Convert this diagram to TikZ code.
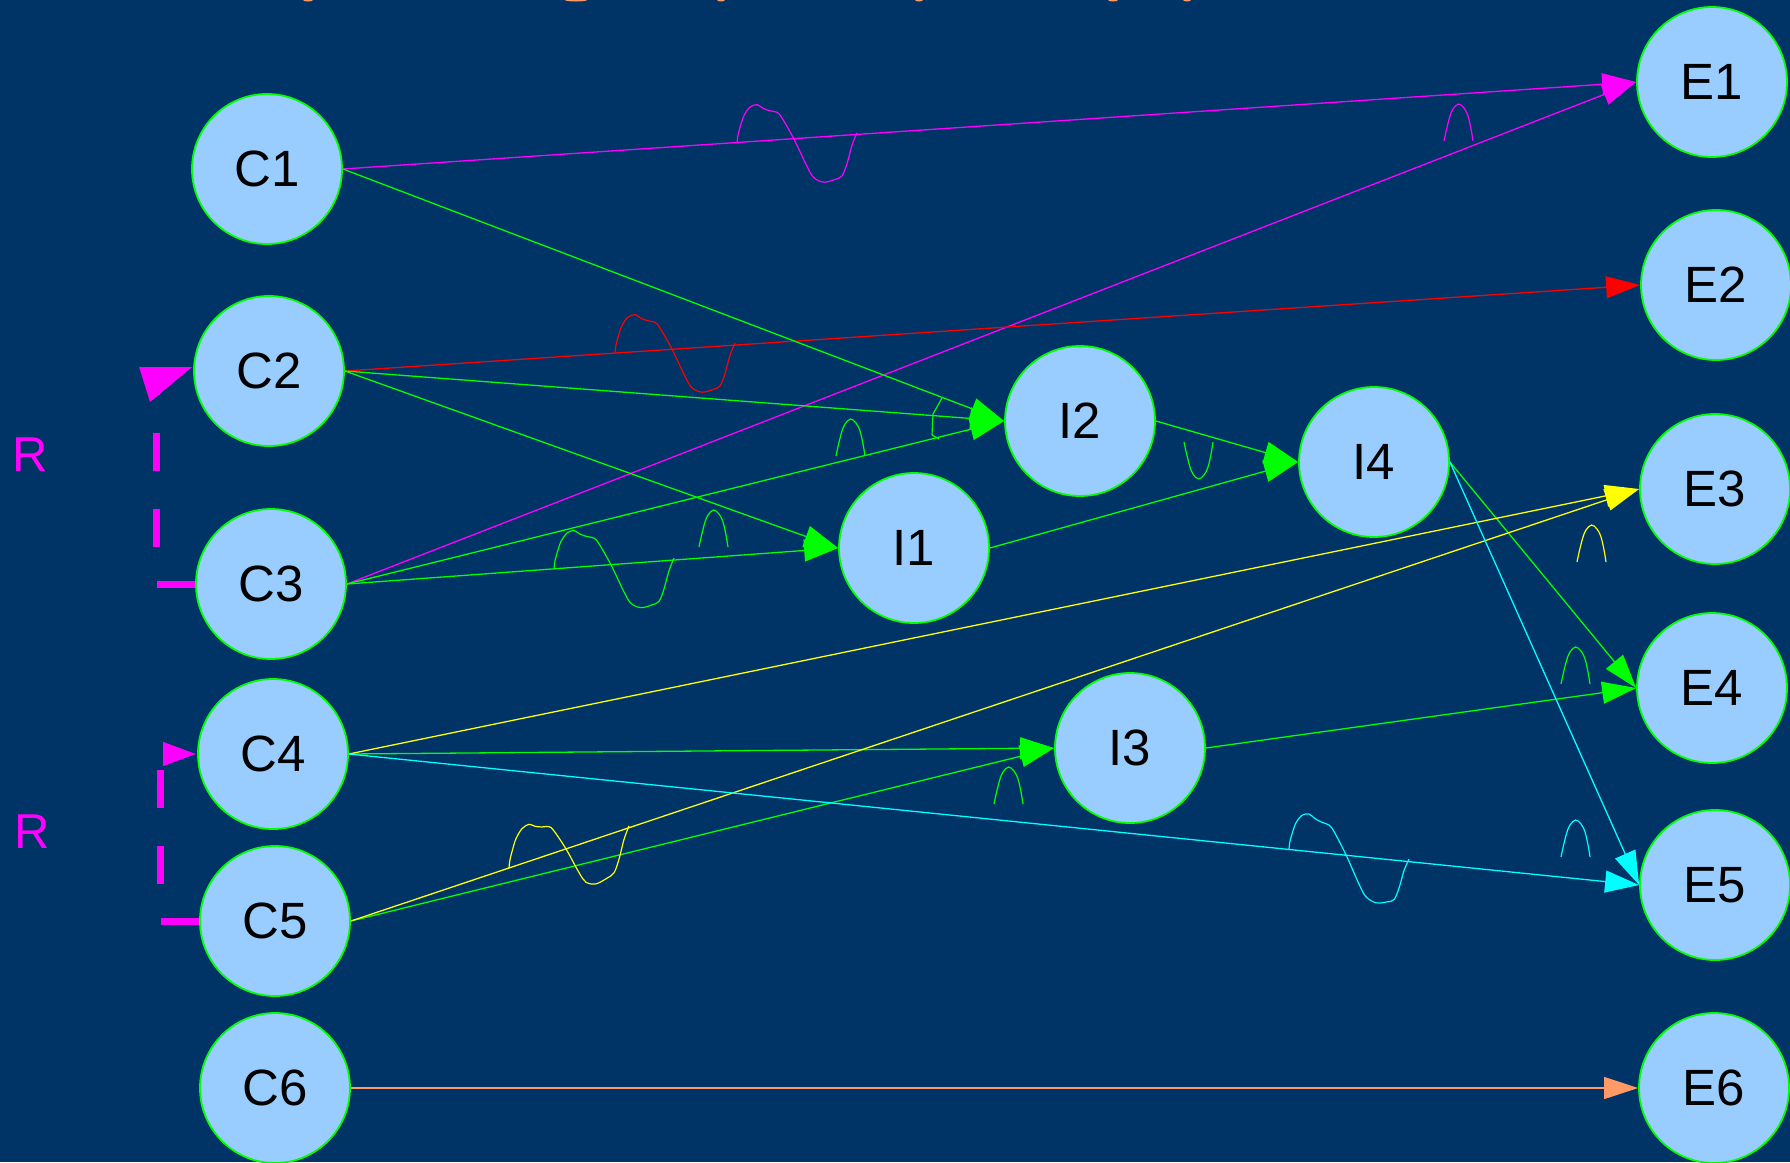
\documentclass[tikz,border=0pt]{standalone}
\usepackage{fontspec}
\setmainfont{Liberation Sans}
\usetikzlibrary{arrows.meta}

\definecolor{navy}{HTML}{003366}
\definecolor{ballfill}{HTML}{99CCFF}
\definecolor{salmon}{HTML}{FF9966}
\definecolor{fuchsia}{HTML}{FF00FF}
\definecolor{aqua}{HTML}{00FFFF}
\definecolor{lemon}{HTML}{FFFF00}
\definecolor{lime}{HTML}{00FF00}
\definecolor{scarlet}{HTML}{FF0000}

% one period of the wiggle and the small hump put on some of the links
\tikzset{
  wave/.pic={\draw[line width=1.2pt] plot[smooth,tension=0.55] coordinates {(0,0) (1,-8) (3.5,-17) (7,-27) (13,-35) (20,-37) (26,-33) (33,-30) (40,-28) (45,-22) (57,0) (70,28) (77,40) (87,45) (98,43) (105,40) (110,28) (115,10) (120,-2)};},
  bump/.pic={\draw[line width=1.2pt] plot[smooth,tension=0.6] coordinates {(0,0) (2.3,-10.7) (5.7,-24) (9,-32) (14.5,-37) (20,-33) (24,-25) (27,-12) (29,0)};}
}

\begin{document}
\begin{tikzpicture}[x=1pt,y=-1pt,
    ball/.style={circle,minimum size=150pt,inner sep=0pt,fill=ballfill,draw=lime,line width=1.8pt,font=\fontsize{51}{51}\selectfont},
    link/.style={line width=1.3pt,-{Triangle[length=34pt,width=22pt]}},
    rlink/.style={fuchsia,line width=7pt,dash pattern=on 38pt off 38pt}]

    \fill[navy] (0,0) rectangle (1790,1162);
    \useasboundingbox (0,0) rectangle (1790,1162);

    % bits of the heading cut off at the top
    \foreach \x/\w in {308/5, 576/11, 721/4, 919/4, 1113/5, 1187/4}
        \fill[salmon] (\x,0) ellipse [x radius=\w, y radius=1.5];

    % causes
    \node[ball] (C1) at (267,169) {C1};
    \node[ball] (C2) at (269,371) {C2};
    \node[ball] (C3) at (271,584) {C3};
    \node[ball] (C4) at (273,754) {C4};
    \node[ball] (C5) at (275,921) {C5};
    \node[ball] (C6) at (275,1088) {C6};

    % intermediate
    \node[ball] (I1) at (914,548) {I1};
    \node[ball] (I2) at (1080,421) {I2};
    \node[ball] (I3) at (1130,748) {I3};
    \node[ball] (I4) at (1374,462) {I4};

    % effects
    \node[ball] (E1) at (1712,82) {E1};
    \node[ball] (E2) at (1716,285) {E2};
    \node[ball] (E3) at (1715,489) {E3};
    \node[ball] (E4) at (1712,688) {E4};
    \node[ball] (E5) at (1715,885) {E5};
    \node[ball] (E6) at (1714,1088) {E6};

    \node[text=fuchsia,font=\fontsize{49}{49}\selectfont] (R1) at (30,455) {R};
    \node[text=fuchsia,font=\fontsize{49}{49}\selectfont] (R2) at (32,832) {R};

    \draw[link,fuchsia] (C1.east) -- (E1.west);
    \draw[link,fuchsia] (C3.east) -- (E1.west);
    \draw[link,scarlet] (C2.east) -- (E2.west);
    \draw[link,lime] (C1.east) -- (I2.west);
    \draw[link,lime] (C2.east) -- (I2.west);
    \draw[link,lime] (C3.east) -- (I2.west);
    \draw[link,lime] (C2.east) -- (I1.west);
    \draw[link,lime] (C3.east) -- (I1.west);
    \draw[link,lime] (I1.east) -- (I4.west);
    \draw[link,lime] (I2.east) -- (I4.west);
    \draw[link,lime] (C4.east) -- (I3.west);
    \draw[link,lime] (C5.east) -- (I3.west);
    \draw[link,lime] (I3.east) -- (E4.west);
    \draw[link,lime] (I4.east) -- (E4.west);
    \draw[link,lemon] (C4.east) -- (E3.west);
    \draw[link,lemon] (C5.east) -- (E3.west);
    \draw[link,aqua] (C4.east) -- (E5.west);
    \draw[link,aqua] (I4.east) -- (E5.west);
    \draw[link,salmon] (C6.east) -- (E6.west);

    % R links on the left
    \draw[rlink,shorten >=36pt] (C3.west) -- ++(-39,0) |- (C2.west);
    \fill[fuchsia] (C2.west) ++(-1,-4) -- ++(-53,0) -- ++(11,35) -- cycle;
    \draw[rlink,-{Triangle[length=34pt,width=22pt]}] (C5.west) -- ++(-39,0) |- (C4.west);

    % wiggles on the links
    \pic[fuchsia,yslant=0.067] at (737,143) {wave};
    \pic[scarlet,yslant=0.067] at (615,353) {wave};
    \pic[lime,yslant=0.073] at (554,569) {wave};
    \pic[aqua,yslant=-0.101] at (1289,849) {wave};
    \pic[lemon,yslant=0.335] at (509,868) {wave};

    % humps
    \pic[fuchsia] at (1444,141) {bump};
    \pic[lime] at (836,456) {bump};
    \pic[lime] at (699,547) {bump};
    \pic[lime,yscale=-1] at (1184,442) {bump};
    \pic[lemon] at (1577,562) {bump};
    \pic[lime] at (1561,684) {bump};
    \pic[aqua] at (1561,857) {bump};
    \pic[lime] at (994,804) {bump};

    % join mark in front of I2
    \draw[lime,line width=1.2pt] (942,398) -- (933,414) -- (932,435) -- (939,439);
\end{tikzpicture}
\end{document}
